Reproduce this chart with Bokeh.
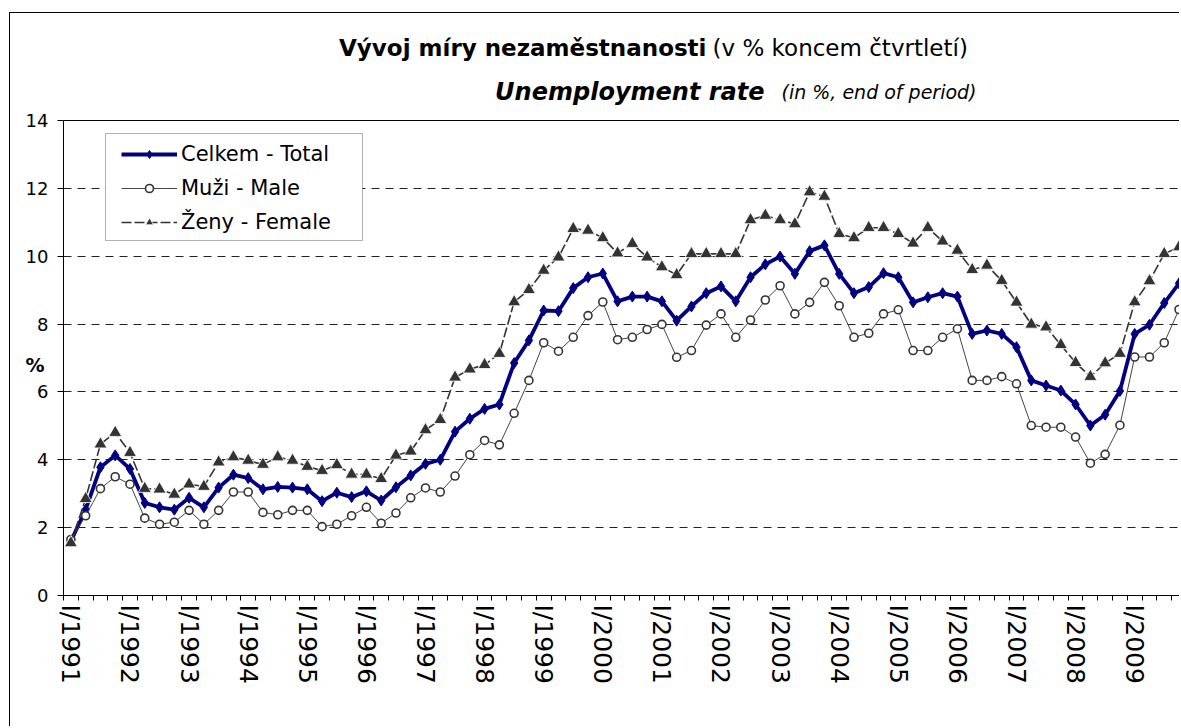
from bokeh.plotting import figure
from bokeh.models import (ColumnDataSource, FixedTicker, Range1d, Label, Legend,
                          LegendItem, BoxAnnotation, Span)
from bokeh.embed import file_html
from bokeh.resources import INLINE

# ---------------- data ----------------
years = list(range(1991, 2010))
roman = ["I", "II", "III", "IV"]
quarters = [f"{r}/{y}" for y in years for r in roman]
tick_labels = [f"I/{y}" for y in years]

total = [1.60, 2.53, 3.78, 4.13, 3.73, 2.73, 2.60, 2.53, 2.88, 2.60,
         3.18, 3.56, 3.46, 3.13, 3.20, 3.18, 3.13, 2.78, 3.03, 2.90,
         3.07, 2.80, 3.19, 3.54, 3.88, 4.00, 4.83, 5.21, 5.50, 5.63,
         6.85, 7.52, 8.40, 8.38, 9.06, 9.38, 9.49, 8.67, 8.81, 8.81,
         8.67, 8.10, 8.52, 8.91, 9.11, 8.67, 9.38, 9.76, 9.99, 9.48,
         10.15, 10.32, 9.48, 8.91, 9.09, 9.50, 9.38, 8.64, 8.79, 8.91,
         8.81, 7.71, 7.81, 7.71, 7.32, 6.34, 6.19, 6.04, 5.63, 5.01,
         5.33, 6.03, 7.71, 7.98, 8.62, 9.20]

male = [1.65, 2.35, 3.15, 3.50, 3.28, 2.28, 2.10, 2.16, 2.51, 2.10,
        2.51, 3.05, 3.05, 2.45, 2.38, 2.51, 2.51, 2.03, 2.10, 2.35,
        2.60, 2.13, 2.43, 2.88, 3.17, 3.05, 3.52, 4.15, 4.57, 4.44,
        5.37, 6.34, 7.45, 7.20, 7.61, 8.25, 8.65, 7.54, 7.61, 7.84,
        7.99, 7.02, 7.22, 7.97, 8.30, 7.61, 8.12, 8.71, 9.13, 8.30,
        8.64, 9.23, 8.54, 7.61, 7.73, 8.30, 8.42, 7.22, 7.22, 7.61,
        7.86, 6.34, 6.34, 6.45, 6.24, 5.01, 4.96, 4.96, 4.67, 3.90,
        4.16, 5.02, 7.03, 7.03, 7.45, 8.43]

female = [1.55, 2.85, 4.46, 4.80, 4.21, 3.15, 3.13, 2.98, 3.28, 3.21,
          3.93, 4.08, 3.98, 3.86, 4.08, 3.98, 3.80, 3.68, 3.85, 3.57,
          3.57, 3.44, 4.13, 4.25, 4.88, 5.18, 6.43, 6.67, 6.80, 7.13,
          8.65, 9.01, 9.58, 9.97, 10.81, 10.76, 10.54, 10.09, 10.37, 9.97,
          9.68, 9.45, 10.07, 10.07, 10.07, 10.07, 11.07, 11.20, 11.07, 10.95,
          11.89, 11.76, 10.66, 10.54, 10.84, 10.84, 10.66, 10.38, 10.84, 10.44,
          10.17, 9.60, 9.73, 9.28, 8.64, 7.99, 7.91, 7.39, 6.86, 6.45,
          6.85, 7.13, 8.65, 9.27, 10.07, 10.27]

y_ticks = [0, 2, 4, 6, 8, 10, 12, 14]

# ---------------- figure ----------------
FONT = "DejaVu Sans"
src = ColumnDataSource(dict(x=list(range(len(quarters))), q=quarters,
                            total=total, male=male, female=female))

W, H = 1170, 714
FRAME_H = 582          # frame covers the title area; value axis 0..14 uses 475 px
y_top = 14 * FRAME_H / 475.0

p = figure(width=W, height=H, output_backend="svg", toolbar_location=None,
           x_range=Range1d(-0.5, 75.1), y_range=Range1d(0, y_top),
           min_border_left=53, min_border_right=0, min_border_top=0,
           min_border_bottom=H - FRAME_H)
p.margin = (12, 0, 0, 9)
p.styles = {"border-left": "1px solid black", "border-top": "1px solid black"}
p.background_fill_color = "white"
p.border_fill_color = "white"
p.outline_line_color = None

# x axis
xa = p.xaxis[0]
xa.ticker = FixedTicker(ticks=[4 * k for k in range(len(years))],
                        minor_ticks=[k - 0.5 for k in range(len(quarters) + 1)])
xa.major_label_overrides = {4 * k: lab for k, lab in enumerate(tick_labels)}
xa.major_label_orientation = "vertical"
xa.major_tick_line_color = None
xa.major_tick_out = 5
xa.major_tick_in = 0
xa.minor_tick_out = 5
xa.minor_tick_in = 0
xa.minor_tick_line_color = "black"
xa.axis_line_color = "black"
xa.major_label_standoff = 4
xa.major_label_text_font = FONT
xa.major_label_text_font_size = "25px"
xa.major_label_text_color = "black"

# y axis
ya = p.yaxis[0]
ya.bounds = (0, 14)
ya.ticker = FixedTicker(ticks=y_ticks)
ya.major_tick_out = 6
ya.major_tick_in = 0
ya.minor_tick_line_color = None
ya.axis_line_color = "black"
ya.major_tick_line_color = "black"
ya.major_label_standoff = 9
ya.major_label_text_font = FONT
ya.major_label_text_font_size = "18px"
ya.major_label_text_color = "black"
# "%" placed lower than the frame centre by leading blank lines
ya.axis_label = "\n\n\n\n\n%"
ya.axis_label_text_font = FONT
ya.axis_label_text_font_size = "19px"
ya.axis_label_text_font_style = "bold"
ya.axis_label_text_color = "black"
ya.axis_label_standoff = -22
if "axis_label_text_line_height" in ya.properties():
    ya.axis_label_text_line_height = 1.1
if "axis_label_orientation" in ya.properties():
    ya.axis_label_orientation = "horizontal"

# grid
p.xgrid.visible = False
p.ygrid.ticker = FixedTicker(ticks=y_ticks[1:-1])
p.ygrid.grid_line_color = "#222222"
p.ygrid.grid_line_dash = "8 6"
p.ygrid.grid_line_width = 1
p.add_layout(Span(location=y_ticks[-1], dimension="width",
                  line_color="black", line_width=1))

# series
l_tot = p.line("x", "total", source=src, line_color="#000080", line_width=3.8)
s_tot = p.scatter("x", "total", source=src, marker="diamond", size=11,
                  fill_color="#000080", line_color="#000080")
l_male = p.line("x", "male", source=src, line_color="#444444", line_width=1)
s_male = p.scatter("x", "male", source=src, marker="circle", size=8,
                   fill_color="white", line_color="#333333", line_width=1.6)
l_fem = p.line("x", "female", source=src, line_color="#333333", line_width=1.6,
               line_dash="10 3")
s_fem = p.scatter("x", "female", source=src, marker="triangle", size=13,
                  fill_color="#333333", line_color="white", line_width=0.8)

# titles (frame-relative screen units)
def lab(text, x, y, style="normal", align="left", size="20px"):
    p.add_layout(Label(x=x, y=y, x_units="screen", y_units="screen", text=text,
                       text_font=FONT, text_font_size=size, text_font_style=style,
                       text_align=align, text_baseline="middle",
                       text_color="black"))

lab("Vývoj míry nezaměstnanosti", 643, 548, "bold", "right", "23px")
lab("(v % koncem čtvrtletí)", 649, 548, "normal", "left", "23px")
lab("Unemployment rate", 701, 504, "bold italic", "right", "24px")
lab("(in %, end of period)", 718, 504, "italic", "left", "19px")

# legend box + legend
p.add_layout(BoxAnnotation(left=42, right=299, bottom=355, top=462,
                           left_units="screen", right_units="screen",
                           bottom_units="screen", top_units="screen",
                           fill_color="white", fill_alpha=1,
                           line_color="black", line_width=1))
legend = Legend(items=[
    LegendItem(label="Celkem - Total", renderers=[l_tot, s_tot]),
    LegendItem(label="Muži - Male", renderers=[l_male, s_male]),
    LegendItem(label="Ženy - Female", renderers=[l_fem, s_fem]),
], location=(58, 356), padding=2, spacing=0, glyph_width=56, glyph_height=20,
    label_height=34, label_standoff=4, border_line_color=None,
    background_fill_alpha=0, label_text_font=FONT, label_text_font_size="21px",
    label_text_color="black", margin=0)
p.add_layout(legend)

open("out.html", "w").write(file_html(p, INLINE))
